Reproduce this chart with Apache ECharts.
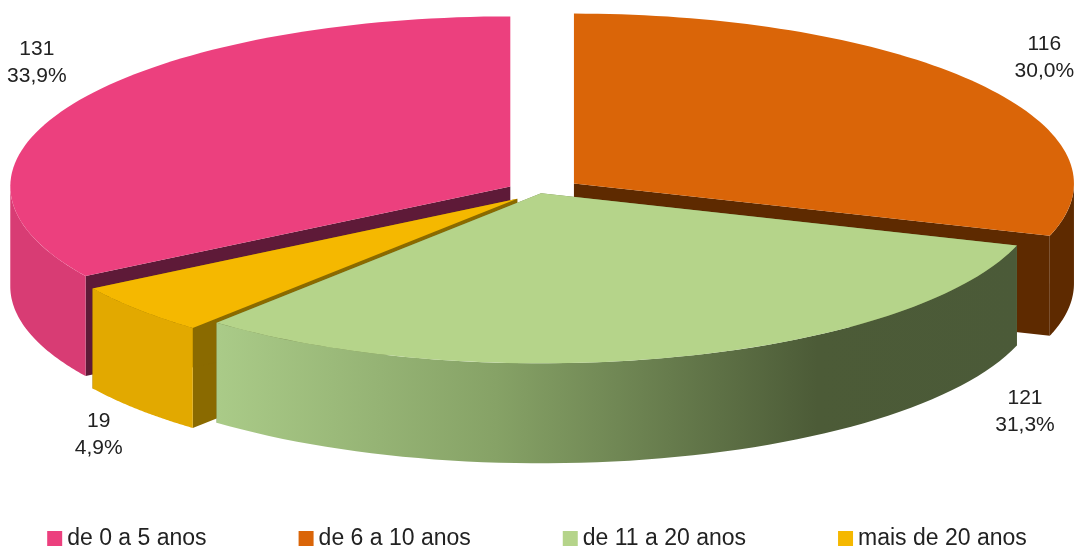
<!DOCTYPE html><html><head><meta charset="utf-8">
<script src="https://cdn.jsdelivr.net/npm/echarts@6/dist/echarts.min.js"></script>
<style>html,body{margin:0;padding:0;background:#fff}#c{width:1074px;height:555px}</style></head><body><div id="c"></div>
<script>
const categories=['de 0 a 5 anos','de 6 a 10 anos','de 11 a 20 anos','mais de 20 anos'];
const values=[131,116,121,19];
const percents=['33,9%','30,0%','31,3%','4,9%'];
// drawing style (not data)
const topCol=['#EC407E','#DA6508','#B5D48A','#F5B800'];
const sideCol=['#D83C74','#5E2A00',null,'#E2A900'];
const wallCol=['#5E1A38','#5E2A00','#6F7F4A','#8A6A00'];
const explode=[34,42,4,30];
const labelAng=[-53,52,120,-128];
const labelR=[1.26,1.28,1.12,1.12];
const cx=540,cy=192,rx=500,ry=170,depth=100;
const total=values.reduce((a,b)=>a+b,0);
const seq=[1,2,3,0];
const start={},end={};let acc=0;
seq.forEach(i=>{start[i]=acc/total*360;acc+=values[i];end[i]=acc/total*360;});
const rad=d=>d*Math.PI/180;
function pt(a,ox,oy,dy){return [cx+ox+rx*Math.sin(rad(a)),cy+oy-ry*Math.cos(rad(a))+(dy||0)];}
function render(i){
  const a0=start[i],a1=end[i],m=(a0+a1)/2;
  const ox=explode[i]*Math.sin(rad(m)),oy=-explode[i]*Math.cos(rad(m))*ry/rx;
  const ch=[];
  const c=[cx+ox,cy+oy];
  const wall=(a)=>{const p=pt(a,ox,oy);return {type:'polygon',shape:{points:[c,p,[p[0],p[1]+depth],[c[0],c[1]+depth]]},style:{fill:wallCol[i]}};};
  ch.push(wall(a0));ch.push(wall(a1));
  const s=Math.max(a0,90),e=Math.min(a1,270);
  if(e>s){const top=[],bot=[];
    for(let a=s;a<=e+1e-6;a+=(e-s)/60){top.push(pt(a,ox,oy));bot.unshift(pt(a,ox,oy,depth));}
    let fill=sideCol[i];
    if(!fill){fill=new echarts.graphic.LinearGradient(0,0,1,0,[{offset:0,color:'#AACB88'},{offset:0.35,color:'#86A266'},{offset:0.75,color:'#4C5B37'},{offset:1,color:'#4B5A38'}]);}
    ch.push({type:'polygon',shape:{points:top.concat(bot)},style:{fill:fill}});}
  const tp=[c];for(let k=0;k<=80;k++)tp.push(pt(a0+(a1-a0)*k/80,ox,oy));
  ch.push({type:'polygon',shape:{points:tp},style:{fill:topCol[i]}});
  const la=labelAng[i];const lp=[cx+rx*labelR[i]*Math.sin(rad(la)),cy-ry*labelR[i]*Math.cos(rad(la))+(la>90||la<-90?depth+25:0)];
  ch.push({type:'text',x:lp[0],y:lp[1],style:{text:values[i]+'\n'+percents[i],fill:'#222',font:'21px "Liberation Sans"',align:'center',verticalAlign:'middle',lineHeight:27}});
  return {type:'group',children:ch};
}
const z={0:2,1:1,2:4,3:3};
const chart=echarts.init(document.getElementById('c'));
chart.setOption({animation:false,
 legend:{bottom:0,left:'center',itemWidth:15,itemHeight:15,itemGap:92,icon:'rect',textStyle:{fontSize:23,fontFamily:'Liberation Sans',color:'#222'},data:categories},
 series:categories.map((n,i)=>({type:'custom',name:n,z:z[i]+2,color:topCol[i],coordinateSystem:'none',data:[i],renderItem:()=>render(i)}))});
</script></body></html>
